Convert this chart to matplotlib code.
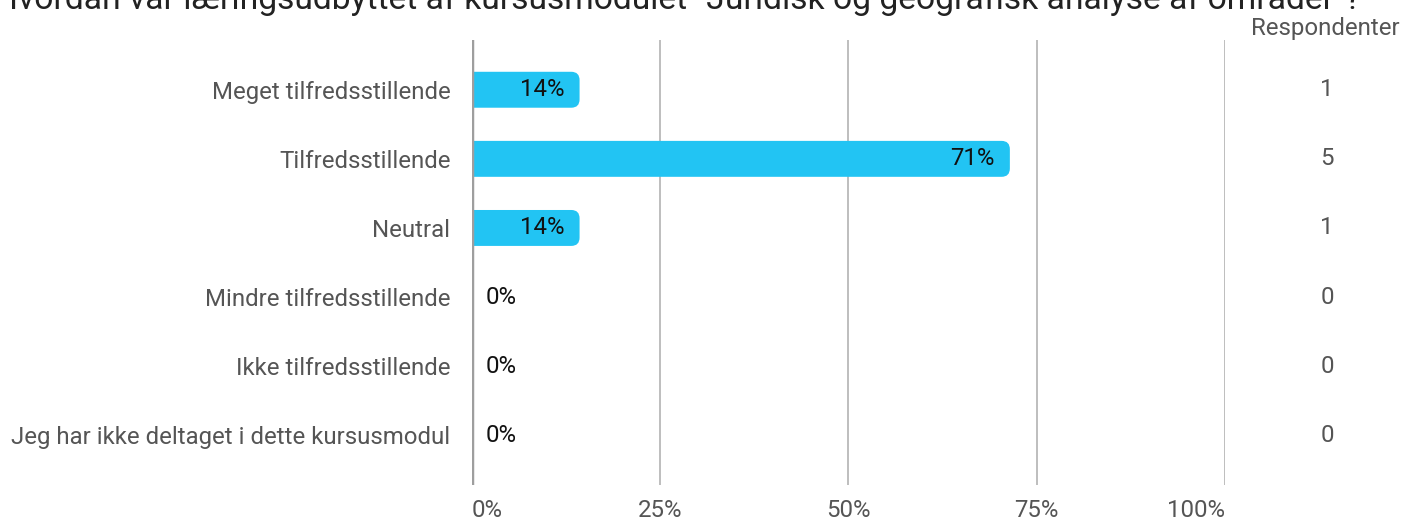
import matplotlib
matplotlib.use('Agg')
import matplotlib.pyplot as plt
import matplotlib.transforms as mtransforms
from matplotlib.patches import FancyBboxPatch

plt.rcParams['font.family'] = ['Roboto', 'DejaVu Sans']

# data
categories = ['Meget tilfredsstillende', 'Tilfredsstillende', 'Neutral',
              'Mindre tilfredsstillende', 'Ikke tilfredsstillende',
              'Jeg har ikke deltaget i dette kursusmodul']
counts = [1, 5, 1, 0, 0, 0]
total = sum(counts)
percents = [c / total * 100 for c in counts]
pct_labels = ['14%', '71%', '14%', '0%', '0%', '0%']
xticks = [0, 25, 50, 75, 100]
xtick_labels = ['0%', '25%', '50%', '75%', '100%']
title = 'Hvordan var læringsudbyttet af kursusmodulet "Juridisk og geografisk analyse af områder"?'

bar_color = '#22c4f3'
fs = 17.3
W, H = 1418, 520
fig = plt.figure(figsize=(W / 100, H / 100), dpi=100)
ax = fig.add_axes([472 / W, 1 - 485 / H, 753 / W, 445 / H])

ax.set_xlim(0, 100)
ax.set_ylim(5.72, -0.72)

# gridlines
for x in xticks[1:]:
    ax.axvline(x, color='#b3b3b3', lw=1.2, zorder=0)
ax.axvline(0, color='#9e9e9e', lw=2.5, zorder=3)

# bars with rounded right ends
bh = 0.52
r = 1.1
for i, v in enumerate(percents):
    if v <= 0:
        ax.text(1.8, i, pct_labels[i], ha='left', va='center',
                fontsize=fs, color='#111111', zorder=4)
        continue
    p = FancyBboxPatch((-3, i - bh / 2), v + 3, bh,
                       boxstyle=f'round,pad=0,rounding_size={r}',
                       mutation_aspect=0.11,
                       fc=bar_color, ec='none', zorder=2)
    ax.add_patch(p)
    ax.text(v - 2, i, pct_labels[i], ha='right', va='center',
            fontsize=fs, color='#111111', zorder=4)

ax.set_yticks(range(len(categories)))
ax.set_yticklabels(categories, fontsize=fs, color='#555555')
ax.set_xticks(xticks)
ax.set_xticklabels(xtick_labels, fontsize=fs, color='#555555')
ax.get_xticklabels()[0].set_ha('left')
ax.get_xticklabels()[-1].set_ha('right')
ax.tick_params(axis='y', length=0, pad=15.5)
ax.tick_params(axis='x', length=0, pad=10)
for s in ax.spines.values():
    s.set_visible(False)

# respondent counts column
trans = mtransforms.blended_transform_factory(fig.transFigure, ax.transData)
for i, c in enumerate(counts):
    ax.text(1327 / W, i, str(c), ha='center', va='center', fontsize=fs,
            color='#555555', transform=trans)
fig.text(1400 / W, 1 - 28 / H, 'Respondenter', ha='right', va='center',
         fontsize=fs, color='#555555')

fig.text(-6 / W, 1 - 9 / H, title, ha='left', va='baseline',
         fontsize=24.2, color='#222222')

fig.savefig('out.png', dpi=100)
